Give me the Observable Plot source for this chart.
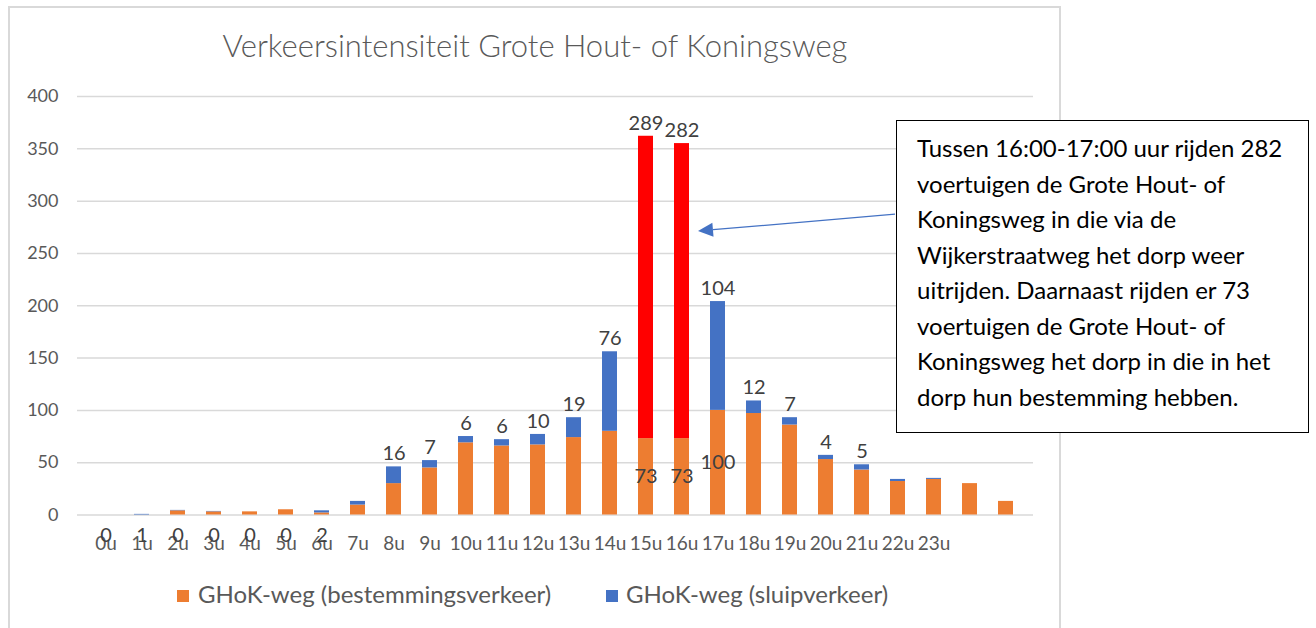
<!DOCTYPE html>
<html><head><meta charset="utf-8">
<script src="https://cdn.jsdelivr.net/npm/d3@7"></script>
<script src="https://cdn.jsdelivr.net/npm/@observablehq/plot@0.6"></script>
<style>
html,body{margin:0;padding:0;background:#fff;overflow:hidden;}
#wrap{position:relative;width:1316px;height:628px;overflow:hidden;font-family:Lato,"Open Sans",sans-serif;}
#frame{position:absolute;left:8px;top:6px;width:1049px;height:700px;border:2px solid #d9d9d9;}
#title{position:absolute;left:9px;width:1052px;top:27px;text-align:center;font-size:31px;font-weight:300;color:#595959;white-space:nowrap;line-height:37px;}
#chart{position:absolute;left:0;top:0;}
.leg{position:absolute;top:579px;font-size:24px;color:#595959;white-space:nowrap;line-height:30px;}
.sw{display:inline-block;width:12px;height:12px;vertical-align:middle;position:relative;top:-1px;}
#note{position:absolute;left:896px;top:120px;width:411px;height:311px;border:1.5px solid #000;background:#fff;padding:0;}
#note div{position:absolute;left:20px;font-size:24px;color:#000;white-space:nowrap;line-height:35.5px;}
</style></head>
<body>
<div id="wrap">
  <div id="frame"></div>
  <div id="title"></div>
  <div id="chart"></div>
  <div id="legend"></div>
  <div id="note"></div>
</div>
<script>
// ---- data ----
const hourLabels = ["0u","1u","2u","3u","4u","5u","6u","7u","8u","9u","10u","11u","12u","13u","14u","15u","16u","17u","18u","19u","20u","21u","22u","23u"];
const hours = d3.range(26);
const bestemming = [0,0,4,3,3,5,2,9.5,30,45,69,66,67,74,80,73,73,100,97,86,53,43,32,34,30,13];
const sluip      = [0,0.6,0.4,0.4,0,0,2,3.5,16,7,6,6,10,19,76,289,282,104,12,7,4,5,2,1,0,0];
const sluipLabels = [0,1,0,0,0,0,2,null,16,7,6,6,10,19,76,289,282,104,12,7,4,5,null,null,null,null];
const bestemmingLabelHours = [15,16,17];
const peakHours = [15,16];
const lowLabelHours = [0,1,2,3,4,5,6];
const yTicks = [0,50,100,150,200,250,300,350,400];
const seriesNames = ["GHoK-weg (bestemmingsverkeer)","GHoK-weg (sluipverkeer)"];
const colors = {best:"#ed7d31", sluip:"#4472c4", peak:"#ff0000"};
const titleText = "Verkeersintensiteit Grote Hout- of Koningsweg";
const noteLines = [
  "Tussen 16:00-17:00 uur rijden 282",
  "voertuigen de Grote Hout- of",
  "Koningsweg in die via de",
  "Wijkerstraatweg het dorp weer",
  "uitrijden. Daarnaast rijden er 73",
  "voertuigen de Grote Hout- of",
  "Koningsweg het dorp in die in het",
  "dorp hun bestemming hebben."
];
const arrowHour = 16, arrowTipValue = 271, arrowStartValue = 287;

// ---- table ----
const rows = [];
hours.forEach(i => {
  rows.push({hour:i, series:"best", value:bestemming[i], fill:colors.best});
  rows.push({hour:i, series:"sluip", value:sluip[i], fill: peakHours.includes(i) ? colors.peak : colors.sluip});
});
const upHours = hours.filter(i => sluipLabels[i] != null && !lowLabelHours.includes(i));

document.getElementById("title").textContent = titleText;

const chart = Plot.plot({
  width:1316, height:628,
  marginLeft:77, marginRight:283, marginTop:96, marginBottom:113.5,
  style:{fontFamily:"Lato, 'Open Sans', sans-serif", color:"#595959", background:"transparent", overflow:"visible"},
  x:{type:"band", domain:hours, paddingInner:0.59, paddingOuter:0.295, label:null},
  y:{domain:[0,400], label:null},
  marks:[
    Plot.ruleY(yTicks, {stroke:"#d9d9d9", strokeWidth:1.5}),
    Plot.barY(rows, Plot.stackY({x:"hour", y:"value", z:"series", fill:"fill", order:null})),
    Plot.axisY(yTicks, {tickSize:0, tickPadding:19, fontSize:18, label:null}),
    Plot.axisX({tickSize:0, tickPadding:21, fontSize:19, label:null, tickFormat: i => hourLabels[i] ?? ""}),
    Plot.text(upHours, {x:d=>d, y:d=>bestemming[d]+sluip[d], text:d=>String(sluipLabels[d]), dy:-13, fontSize:20, fill:"#404040"}),
    Plot.text(lowLabelHours, {x:d=>d, y:0, text:d=>String(sluipLabels[d]), dy:21, fontSize:20, fill:"#404040"}),
    Plot.text(bestemmingLabelHours, {x:d=>d, y:d=>bestemming[d]/2, text:d=>String(bestemming[d]), fontSize:20, fill:"#404040"})
  ]
});
document.getElementById("chart").appendChild(chart);

// arrow annotation drawn with the chart's scales
const xs = chart.scale("x"), ys = chart.scale("y");
const tipX = xs.apply(arrowHour) + xs.bandwidth + 9, tipY = ys.apply(arrowTipValue);
const startX = 895, startY = ys.apply(arrowStartValue);
const g = d3.select(chart).append("g");
const ang = Math.atan2(startY - tipY, startX - tipX);
const hl = 15, hw = 7;
const bx = tipX + hl*Math.cos(ang), by = tipY + hl*Math.sin(ang);
g.append("line").attr("x1",startX).attr("y1",startY).attr("x2",bx).attr("y2",by).attr("stroke",colors.sluip).attr("stroke-width",1.3);
g.append("path").attr("d", `M${tipX},${tipY}L${bx - hw*Math.sin(ang)},${by + hw*Math.cos(ang)}L${bx + hw*Math.sin(ang)},${by - hw*Math.cos(ang)}Z`).attr("fill",colors.sluip);

// legend
const legend = document.getElementById("legend");
[[seriesNames[0], colors.best, 177, 9],[seriesNames[1], colors.sluip, 606, 8]].forEach(([t,c,l,gap]) => {
  const d = document.createElement("div");
  d.className = "leg"; d.style.left = l + "px";
  d.innerHTML = `<span class="sw" style="background:${c};margin-right:${gap}px"></span>`;
  d.appendChild(document.createTextNode(t));
  legend.appendChild(d);
});

// note
const note = document.getElementById("note");
noteLines.forEach((t,i) => {
  const d = document.createElement("div");
  d.style.top = (9 + i*35.5) + "px";
  d.textContent = t;
  note.appendChild(d);
});
</script>
</body></html>
